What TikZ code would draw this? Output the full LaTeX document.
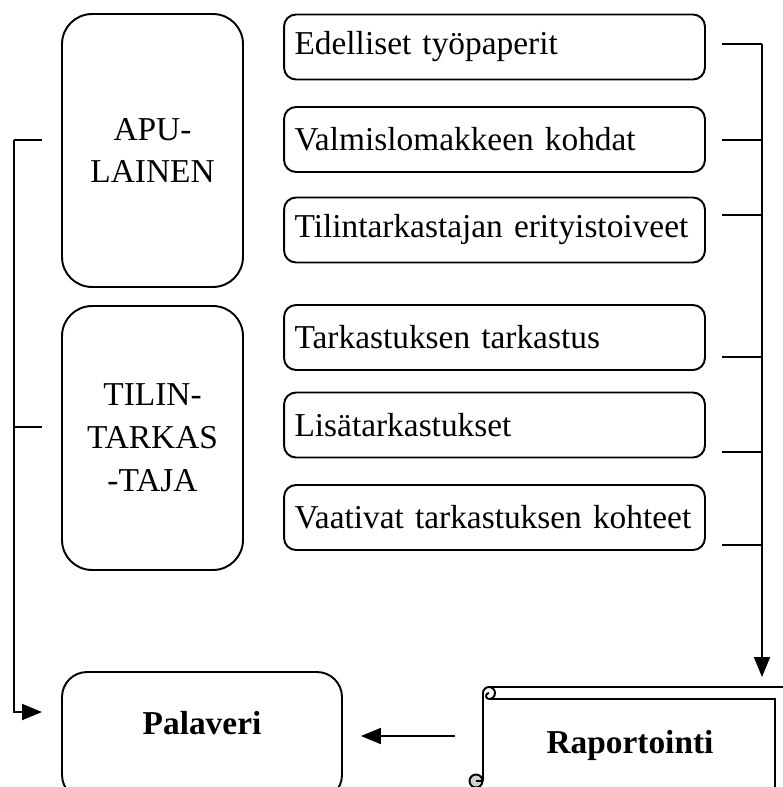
\documentclass[tikz,border=0pt]{standalone}
\usepackage{fontspec}
\setmainfont{Liberation Serif}
\usetikzlibrary{arrows.meta, positioning}

\newcommand{\diafont}{\fontsize{19}{24.4}\selectfont}

\tikzset{
  bigbox/.style={draw, rounded corners=0.6cm, minimum width=3.62cm, align=center},
  itembox/.style={draw, rounded corners=0.24cm, minimum width=8.42cm, minimum height=1.3cm,
    inner xsep=0.21cm, text width=8.0cm, align=left},
  palbox/.style={draw, rounded corners=0.5cm, minimum width=5.6cm, minimum height=2.56cm},
  arr/.style={-{Triangle[length=0.4cm,width=0.32cm]}},
}

\begin{document}
\begin{tikzpicture}[x=0.02cm, y=-0.02cm, line width=1.1pt, font=\diafont]
    \useasboundingbox (0,0) rectangle (783,787);

    \node[bigbox, minimum height=5.46cm] (apu) at (152.5,150.5) {APU-\\LAINEN};
    \node[bigbox, minimum height=5.28cm] (tilin) at (152.5,438) {TILIN-\\TARKAS\\-TAJA};

    \foreach \i/\y/\s/\c in {1/47/44/Edelliset työpaperit,
                             2/139.5/140/Valmislomakkeen kohdat,
                             3/230/215/Tilintarkastajan erityistoiveet,
                             4/337.5/357/Tarkastuksen tarkastus,
                             5/425/452/Lisätarkastukset,
                             6/517.5/545/Vaativat tarkastuksen kohteet} {
        \node[itembox] (item\i) at (494.5,\y) {\c};
        \coordinate (stub\i) at (762,\s);
        \draw (stub\i) -- +(-40,0);
    }
    \coordinate (bustip) at (762,677);
    \draw[arr] (stub1) -- (bustip);

    % palaveri
    \node[palbox] (palaveri) at (202,736) {};
    \node[font=\diafont\bfseries] (palname) at (202,723) {Palaveri};

    % left line
    \coordinate (left1) at (14,140);
    \coordinate (left2) at (14,427);
    \coordinate (palin) at (42,712);
    \draw (left1) -- +(28,0);
    \draw (left2) -- +(28,0);
    \draw[arr] (left1) |- (palin);

    % scroll
    \draw (489,687) -- (790,687);
    \draw (489,699) -- (775,699) -- (775,800);
    \draw (483,693) arc[start angle=180, end angle=-90, radius=0.12cm]
          arc[start angle=-90, end angle=-270, radius=0.06cm];
    \draw (483,693) -- (483,781);
    \draw[fill=gray!35] (476,781) circle[radius=0.13cm];
    \draw (476,781) -- (483,781);
    \node[font=\diafont\bfseries] (raport) at (630,745) {Raportointi};

    \coordinate (rapout) at (455,736);
    \draw[arr, shorten >=0.36cm] (rapout) -- (palaveri.east);
\end{tikzpicture}
\end{document}
